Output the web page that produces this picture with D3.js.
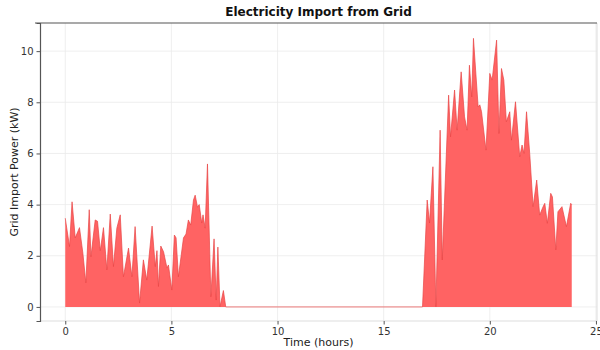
<!DOCTYPE html>
<html>
<head>
<meta charset="utf-8">
<script src="https://cdn.jsdelivr.net/npm/d3@7"></script>
<style>
  body { margin: 0; background: #fff; }
  svg { font-family: "DejaVu Sans", sans-serif; }
</style>
</head>
<body>
<svg class="chart"></svg>
<script>
// Chart size
const width = 600, height = 350;

// Time of day (hours) and grid import power (kW)
const hours = [
  0.00, 0.20, 0.32, 0.47, 0.67, 0.83, 0.97, 1.13, 1.21, 1.41, 1.52, 1.65, 1.80, 1.96,
  2.12, 2.27, 2.43, 2.59, 2.74, 2.98, 3.14, 3.29, 3.50, 3.68, 3.84, 4.09, 4.24, 4.32,
  4.39, 4.50, 4.63, 4.79, 4.86, 5.02, 5.14, 5.22, 5.33, 5.57, 5.69, 5.80, 5.91, 6.04,
  6.12, 6.23, 6.31, 6.43, 6.49, 6.59, 6.70, 6.86, 7.01, 7.11, 7.19, 7.29, 7.45, 7.56,
  16.83, 17.05, 17.16, 17.32, 17.46, 17.66, 17.76, 18.06, 18.15, 18.34, 18.46, 18.65,
  18.81, 18.93, 19.04, 19.15, 19.23, 19.45, 19.53, 19.61, 19.82, 20.00, 20.11, 20.32,
  20.43, 20.55, 20.66, 20.78, 20.94, 21.02, 21.21, 21.41, 21.52, 21.61, 21.73, 21.88,
  22.04, 22.21, 22.35, 22.50, 22.59, 22.71, 22.87, 22.95, 23.11, 23.21, 23.40, 23.61,
  23.81, 23.86
];
const importKW = [
  3.47, 2.36, 4.11, 2.70, 3.10, 2.10, 0.94, 3.80, 1.96, 3.40, 3.35, 2.20, 3.10, 1.45,
  3.63, 1.58, 3.08, 3.60, 1.18, 2.30, 1.18, 3.14, 0.15, 1.84, 1.05, 3.16, 1.58, 2.20,
  0.80, 2.38, 2.16, 1.52, 1.64, 0.66, 2.81, 2.70, 1.18, 2.70, 2.85, 3.40, 3.20, 4.18,
  4.37, 3.90, 4.00, 3.28, 3.60, 3.08, 5.59, 0.40, 2.66, 0.27, 2.34, 0.01, 0.64, 0.00,
  0.00, 4.18, 3.28, 5.48, 0.00, 6.91, 1.84, 8.28, 6.65, 8.48, 6.91, 9.19,
  7.43, 6.91, 9.45, 8.21, 10.50, 7.82, 7.90, 7.63, 6.13, 9.13, 8.87, 10.43,
  6.78, 9.32, 8.87, 7.24, 7.63, 6.52, 8.02, 5.87, 6.33, 6.00, 7.63, 6.00,
  3.92, 4.96, 3.59, 3.90, 4.05, 3.27, 4.44, 4.30, 2.23, 3.72, 3.92, 3.14,
  4.05, 4.00
];

// Axis ticks
const xTicks = [0, 5, 10, 15, 20, 25];
const yTicks = [0, 2, 4, 6, 8, 10];

const data = hours.map((h, i) => ({ h: h, v: importKW[i] }));

const margin = { top: 23, right: 3, bottom: 29, left: 40 };
const innerW = width - margin.left - margin.right;
const innerH = height - margin.top - margin.bottom;

const svg = d3.select(".chart").attr("width", width).attr("height", height);

const x = d3.scaleLinear().domain([-1.19, 25.05]).range([margin.left, margin.left + innerW]);
const y = d3.scaleLinear().domain([-0.55, 11.1]).range([margin.top + innerH, margin.top]);

// Grid lines
svg.append("g").selectAll("line")
  .data(xTicks)
  .enter().append("line")
  .attr("x1", d => x(d)).attr("x2", d => x(d))
  .attr("y1", margin.top).attr("y2", margin.top + innerH)
  .attr("stroke", "#ebebeb").attr("stroke-width", 0.8);
svg.append("g").selectAll("line")
  .data(yTicks)
  .enter().append("line")
  .attr("x1", margin.left).attr("x2", margin.left + innerW)
  .attr("y1", d => y(d)).attr("y2", d => y(d))
  .attr("stroke", "#ebebeb").attr("stroke-width", 0.8);

// Filled area + edge line
const area = d3.area().x(d => x(d.h)).y0(y(0)).y1(d => y(d.v));
const line = d3.line().x(d => x(d.h)).y(d => y(d.v));

svg.append("path")
  .datum(data)
  .attr("d", area)
  .attr("fill", "#ff6363");
svg.append("path")
  .datum(data)
  .attr("d", line)
  .attr("fill", "none")
  .attr("stroke", "#e84545")
  .attr("stroke-width", 0.7);

// Frame: light bottom/right, darker top/left
svg.append("line")
  .attr("x1", margin.left).attr("x2", margin.left + innerW)
  .attr("y1", margin.top + innerH).attr("y2", margin.top + innerH)
  .attr("stroke", "#dddddd").attr("stroke-width", 1);
svg.append("line")
  .attr("x1", margin.left + innerW).attr("x2", margin.left + innerW)
  .attr("y1", margin.top).attr("y2", margin.top + innerH)
  .attr("stroke", "#dddddd").attr("stroke-width", 1);

// Axes
const xAxis = svg.append("g")
  .attr("transform", `translate(0,${margin.top + innerH})`)
  .call(d3.axisBottom(x).tickValues(xTicks).tickSize(3.5).tickPadding(3));
const yAxis = svg.append("g")
  .attr("transform", `translate(${margin.left},0)`)
  .call(d3.axisLeft(y).tickValues(yTicks).tickSize(3.5).tickPadding(3));

xAxis.select(".domain").remove();
yAxis.select(".domain").attr("stroke", "#555").attr("stroke-width", 1.2);
[xAxis, yAxis].forEach(a => {
  a.selectAll(".tick line").attr("stroke", "#555");
  a.selectAll(".tick text").attr("fill", "#333").style("font-size", "10px")
    .style("font-family", "DejaVu Sans, sans-serif");
});

svg.append("line")
  .attr("x1", margin.left - 5).attr("x2", margin.left + innerW)
  .attr("y1", margin.top).attr("y2", margin.top)
  .attr("stroke", "#555").attr("stroke-width", 1.2);

// Titles
svg.append("text")
  .attr("x", margin.left + innerW / 2).attr("y", 16)
  .attr("text-anchor", "middle")
  .style("font-size", "12px").style("font-weight", "bold").attr("fill", "#111")
  .text("Electricity Import from Grid");

svg.append("text")
  .attr("x", margin.left + innerW / 2).attr("y", 346)
  .attr("text-anchor", "middle")
  .style("font-size", "11px").attr("fill", "#222")
  .text("Time (hours)");

svg.append("text")
  .attr("transform", `translate(18,${margin.top + innerH / 2}) rotate(-90)`)
  .attr("text-anchor", "middle")
  .style("font-size", "11px").attr("fill", "#222")
  .text("Grid Import Power (kW)");
</script>
</body>
</html>
